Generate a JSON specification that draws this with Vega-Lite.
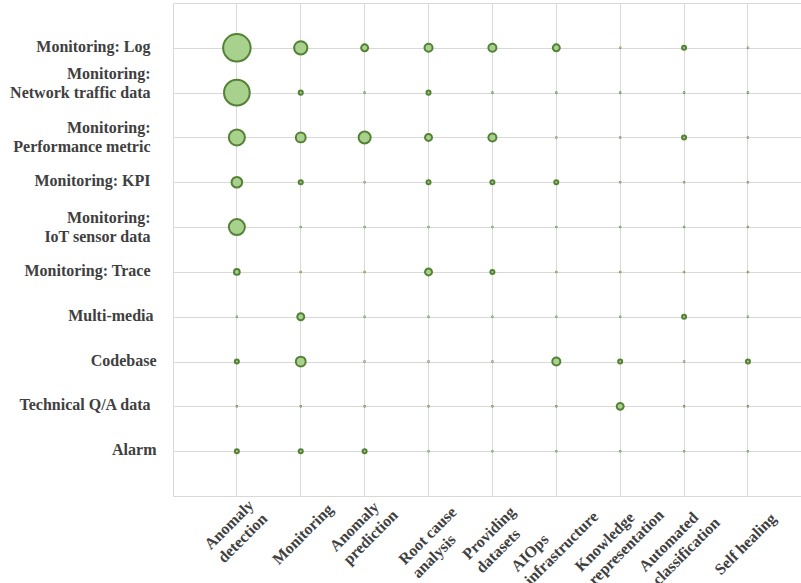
{
  "$schema": "https://vega.github.io/schema/vega-lite/v6.json",
  "autosize": {"type": "none"},
  "padding": {"left": 173, "top": 3, "right": 0, "bottom": 87},
  "width": 628,
  "height": 493,
  "background": "white",
  "config": {
    "view": {"stroke": "#d9d9d9", "strokeWidth": 1},
    "axis": {
      "labelFont": "Liberation Serif",
      "labelFontWeight": "bold",
      "labelFontSize": 16,
      "labelColor": "#404040",
      "gridColor": "#d9d9d9",
      "gridWidth": 1,
      "domain": false,
      "ticks": false,
      "tickSize": 0,
      "title": null,
      "labelLineHeight": 19
    }
  },
  "data": {
    "values": [
      {"source": "Monitoring: Log", "task": "Anomaly detection", "count": 47},
      {"source": "Monitoring: Log", "task": "Monitoring", "count": 11},
      {"source": "Monitoring: Log", "task": "Anomaly prediction", "count": 3},
      {"source": "Monitoring: Log", "task": "Root cause analysis", "count": 4},
      {"source": "Monitoring: Log", "task": "Providing datasets", "count": 4},
      {"source": "Monitoring: Log", "task": "AIOps infrastructure", "count": 3},
      {"source": "Monitoring: Log", "task": "Knowledge representation", "count": 0},
      {"source": "Monitoring: Log", "task": "Automated classification", "count": 1},
      {"source": "Monitoring: Log", "task": "Self healing", "count": 0},
      {"source": "Monitoring: Network traffic data", "task": "Anomaly detection", "count": 41},
      {"source": "Monitoring: Network traffic data", "task": "Monitoring", "count": 1},
      {"source": "Monitoring: Network traffic data", "task": "Anomaly prediction", "count": 0},
      {"source": "Monitoring: Network traffic data", "task": "Root cause analysis", "count": 1},
      {"source": "Monitoring: Network traffic data", "task": "Providing datasets", "count": 0},
      {"source": "Monitoring: Network traffic data", "task": "AIOps infrastructure", "count": 0},
      {"source": "Monitoring: Network traffic data", "task": "Knowledge representation", "count": 0},
      {"source": "Monitoring: Network traffic data", "task": "Automated classification", "count": 0},
      {"source": "Monitoring: Network traffic data", "task": "Self healing", "count": 0},
      {"source": "Monitoring: Performance metric", "task": "Anomaly detection", "count": 16},
      {"source": "Monitoring: Performance metric", "task": "Monitoring", "count": 6},
      {"source": "Monitoring: Performance metric", "task": "Anomaly prediction", "count": 9},
      {"source": "Monitoring: Performance metric", "task": "Root cause analysis", "count": 3},
      {"source": "Monitoring: Performance metric", "task": "Providing datasets", "count": 4},
      {"source": "Monitoring: Performance metric", "task": "AIOps infrastructure", "count": 0},
      {"source": "Monitoring: Performance metric", "task": "Knowledge representation", "count": 0},
      {"source": "Monitoring: Performance metric", "task": "Automated classification", "count": 1},
      {"source": "Monitoring: Performance metric", "task": "Self healing", "count": 0},
      {"source": "Monitoring: KPI", "task": "Anomaly detection", "count": 7},
      {"source": "Monitoring: KPI", "task": "Monitoring", "count": 1},
      {"source": "Monitoring: KPI", "task": "Anomaly prediction", "count": 0},
      {"source": "Monitoring: KPI", "task": "Root cause analysis", "count": 1},
      {"source": "Monitoring: KPI", "task": "Providing datasets", "count": 1},
      {"source": "Monitoring: KPI", "task": "AIOps infrastructure", "count": 1},
      {"source": "Monitoring: KPI", "task": "Knowledge representation", "count": 0},
      {"source": "Monitoring: KPI", "task": "Automated classification", "count": 0},
      {"source": "Monitoring: KPI", "task": "Self healing", "count": 0},
      {"source": "Monitoring: IoT sensor data", "task": "Anomaly detection", "count": 16},
      {"source": "Monitoring: IoT sensor data", "task": "Monitoring", "count": 0},
      {"source": "Monitoring: IoT sensor data", "task": "Anomaly prediction", "count": 0},
      {"source": "Monitoring: IoT sensor data", "task": "Root cause analysis", "count": 0},
      {"source": "Monitoring: IoT sensor data", "task": "Providing datasets", "count": 0},
      {"source": "Monitoring: IoT sensor data", "task": "AIOps infrastructure", "count": 0},
      {"source": "Monitoring: IoT sensor data", "task": "Knowledge representation", "count": 0},
      {"source": "Monitoring: IoT sensor data", "task": "Automated classification", "count": 0},
      {"source": "Monitoring: IoT sensor data", "task": "Self healing", "count": 0},
      {"source": "Monitoring: Trace", "task": "Anomaly detection", "count": 2},
      {"source": "Monitoring: Trace", "task": "Monitoring", "count": 0},
      {"source": "Monitoring: Trace", "task": "Anomaly prediction", "count": 0},
      {"source": "Monitoring: Trace", "task": "Root cause analysis", "count": 3},
      {"source": "Monitoring: Trace", "task": "Providing datasets", "count": 1},
      {"source": "Monitoring: Trace", "task": "AIOps infrastructure", "count": 0},
      {"source": "Monitoring: Trace", "task": "Knowledge representation", "count": 0},
      {"source": "Monitoring: Trace", "task": "Automated classification", "count": 0},
      {"source": "Monitoring: Trace", "task": "Self healing", "count": 0},
      {"source": "Multi-media", "task": "Anomaly detection", "count": 0},
      {"source": "Multi-media", "task": "Monitoring", "count": 3},
      {"source": "Multi-media", "task": "Anomaly prediction", "count": 0},
      {"source": "Multi-media", "task": "Root cause analysis", "count": 0},
      {"source": "Multi-media", "task": "Providing datasets", "count": 0},
      {"source": "Multi-media", "task": "AIOps infrastructure", "count": 0},
      {"source": "Multi-media", "task": "Knowledge representation", "count": 0},
      {"source": "Multi-media", "task": "Automated classification", "count": 1},
      {"source": "Multi-media", "task": "Self healing", "count": 0},
      {"source": "Codebase", "task": "Anomaly detection", "count": 1},
      {"source": "Codebase", "task": "Monitoring", "count": 6},
      {"source": "Codebase", "task": "Anomaly prediction", "count": 0},
      {"source": "Codebase", "task": "Root cause analysis", "count": 0},
      {"source": "Codebase", "task": "Providing datasets", "count": 0},
      {"source": "Codebase", "task": "AIOps infrastructure", "count": 4},
      {"source": "Codebase", "task": "Knowledge representation", "count": 1},
      {"source": "Codebase", "task": "Automated classification", "count": 0},
      {"source": "Codebase", "task": "Self healing", "count": 1},
      {"source": "Technical Q/A data", "task": "Anomaly detection", "count": 0},
      {"source": "Technical Q/A data", "task": "Monitoring", "count": 0},
      {"source": "Technical Q/A data", "task": "Anomaly prediction", "count": 0},
      {"source": "Technical Q/A data", "task": "Root cause analysis", "count": 0},
      {"source": "Technical Q/A data", "task": "Providing datasets", "count": 0},
      {"source": "Technical Q/A data", "task": "AIOps infrastructure", "count": 0},
      {"source": "Technical Q/A data", "task": "Knowledge representation", "count": 3},
      {"source": "Technical Q/A data", "task": "Automated classification", "count": 0},
      {"source": "Technical Q/A data", "task": "Self healing", "count": 0},
      {"source": "Alarm", "task": "Anomaly detection", "count": 1},
      {"source": "Alarm", "task": "Monitoring", "count": 1},
      {"source": "Alarm", "task": "Anomaly prediction", "count": 1},
      {"source": "Alarm", "task": "Root cause analysis", "count": 0},
      {"source": "Alarm", "task": "Providing datasets", "count": 0},
      {"source": "Alarm", "task": "AIOps infrastructure", "count": 0},
      {"source": "Alarm", "task": "Knowledge representation", "count": 0},
      {"source": "Alarm", "task": "Automated classification", "count": 0},
      {"source": "Alarm", "task": "Self healing", "count": 0}
    ]
  },
  "mark": {"type": "circle", "fill": "#a9d18e", "stroke": "#548235", "strokeWidth": 2, "opacity": 1},
  "encoding": {
    "x": {
      "field": "task",
      "type": "nominal",
      "sort": ["Anomaly detection", "Monitoring", "Anomaly prediction", "Root cause analysis", "Providing datasets", "AIOps infrastructure", "Knowledge representation", "Automated classification", "Self healing"],
      "scale": {"type": "band", "paddingInner": 0, "paddingOuter": 0.415, "align": 0.602},
      "axis": {
        "grid": true,
        "bandPosition": 0.5,
        "labelAngle": -45,
        "labelAlign": "left",
        "labelBaseline": "top",
        "labelPadding": {"expr": "9 + 0.707 * max(7.2 * (datum.value == 'Self healing' || indexof(datum.value, ' ') < 0 ? length(datum.value) : lastindexof(datum.value, ' ')), 7.2 * (datum.value == 'Self healing' || indexof(datum.value, ' ') < 0 ? 0 : length(datum.value) - lastindexof(datum.value, ' ') - 1) - 19)"},
        "labelOffset": {"expr": "-0.3535 * ((datum.value == 'Self healing' || indexof(datum.value, ' ') < 0) ? 7.2 * length(datum.value) + 16 : max(7.2 * lastindexof(datum.value, ' ') + 16, 7.2 * (length(datum.value) - lastindexof(datum.value, ' ') - 1) + 35))"},
        "labelExpr": "(datum.label == 'Self healing' || indexof(datum.label, ' ') < 0) ? datum.label : [slice(datum.label, 0, lastindexof(datum.label, ' ')), slice(datum.label, lastindexof(datum.label, ' ') + 1)]"
      }
    },
    "y": {
      "field": "source",
      "type": "nominal",
      "sort": ["Monitoring: Log", "Monitoring: Network traffic data", "Monitoring: Performance metric", "Monitoring: KPI", "Monitoring: IoT sensor data", "Monitoring: Trace", "Multi-media", "Codebase", "Technical Q/A data", "Alarm"],
      "scale": {"type": "point", "padding": 1},
      "axis": {
        "grid": true,
        "labelAlign": "right",
        "labelBaseline": "middle",
        "labelPadding": {"expr": "datum.value == 'Codebase' || datum.value == 'Alarm' ? 17 : datum.value == 'Multi-media' ? 20 : 23"},
        "labelOffset": {"expr": "datum.value == 'Monitoring: Network traffic data' ? -19 : length(datum.value) > 20 ? -10 : -1.5"},
        "labelExpr": "length(datum.label) > 20 ? ['Monitoring:', slice(datum.label, 12)] : datum.label"
      }
    },
    "size": {
      "field": "count",
      "type": "quantitative",
      "scale": {"type": "linear", "domain": [0, 47], "range": [0.3, 755]},
      "legend": null
    }
  }
}
